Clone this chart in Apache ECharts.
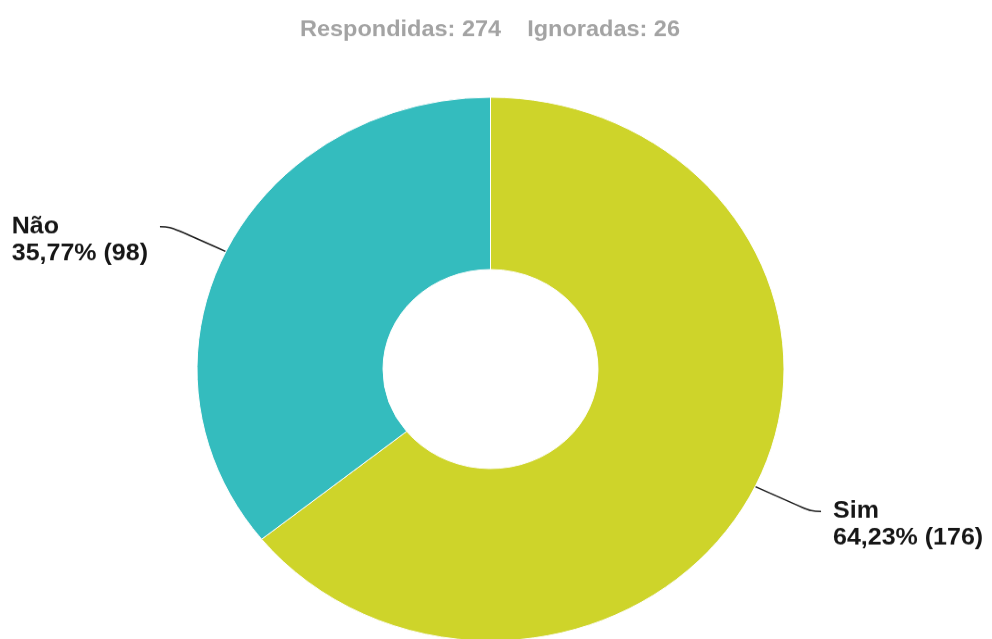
<!DOCTYPE html>
<html>
<head>
<meta charset="utf-8">
<script src="https://cdn.jsdelivr.net/npm/echarts@6/dist/echarts.min.js"></script>
<style>
  html, body { margin: 0; padding: 0; background: #ffffff; overflow: hidden; }
  #wrap { width: 992px; height: 639px; overflow: hidden; }
  /* chart is laid out at 992x690 and compressed vertically into the 639px frame */
  #chart { width: 992px; height: 690px; transform: scaleY(0.92609); transform-origin: 0 0; }
</style>
</head>
<body>
<div id="wrap"><div id="chart"></div></div>
<script>
// Survey answers
const categories = ['Sim', 'Não'];
const answerCounts = [176, 98];
const answeredTotal = 274;
const skippedTotal = 26;
const sliceColors = ['#CED42A', '#34BCBE'];

const FONT = "'Liberation Sans', Arial, Helvetica, sans-serif";

const chart = echarts.init(document.getElementById('chart'), null, { renderer: 'canvas' });

const pieData = categories.map((name, i) => ({
  name: name,
  value: answerCounts[i],
  itemStyle: { color: sliceColors[i] }
}));

chart.setOption({
  backgroundColor: '#ffffff',
  animation: false,
  title: {
    text: 'Respondidas: ' + answeredTotal + '    Ignoradas: ' + skippedTotal,
    left: 485,
    textAlign: 'center',
    top: 16,
    textStyle: { color: '#a3a3a3', fontSize: 23.5, fontWeight: 'bold', fontFamily: FONT }
  },
  series: [{
    type: 'pie',
    // wide layout box so the right-hand label keeps its full text
    left: 0,
    top: 0,
    width: 1200,
    height: 690,
    center: [490.5, 398.5],
    radius: [107.5, 293.5],
    startAngle: 90,
    clockwise: true,
    bleedMargin: 0,
    percentPrecision: 2,
    itemStyle: { borderColor: '#ffffff', borderWidth: 1 },
    label: {
      show: true,
      position: 'outside',
      overflow: 'none',
      distanceToLabelLine: 12,
      padding: [29, 0, 0, 0],
      formatter: p => '{n|' + p.name + '}\n{v|' + p.percent.toFixed(2).replace('.', ',') + '% (' + p.value + ')}',
      rich: {
        n: { fontSize: 25, fontWeight: 'bold', fontFamily: FONT, color: '#161616', align: 'left', lineHeight: 29 },
        v: { fontSize: 25, fontWeight: 'bold', fontFamily: FONT, color: '#161616', align: 'left', lineHeight: 29 }
      }
    },
    labelLine: {
      show: true,
      length: 62,
      length2: 10,
      smooth: 0.4,
      lineStyle: { color: '#1a1a1a', width: 1.5 }
    },
    emphasis: { disabled: true },
    data: pieData
  }]
});
</script>
</body>
</html>
